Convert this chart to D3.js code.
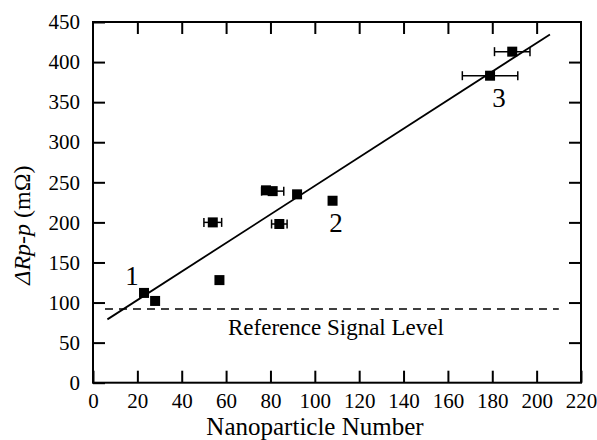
<!DOCTYPE html>
<head>
    <meta charset="utf-8">
    <title>Nanoparticle Number vs Delta Rp-p</title>
    <script src="https://d3js.org/d3.v7.min.js"></script>
    <style>
        body { margin: 0; background: #fff; }
        svg text { font-family: "Liberation Serif", "Times New Roman", serif; fill: #000; }
    </style>
</head>
<body>
    <svg class="chart" width="597" height="440"></svg>
    <script>
        // measured points (nanoparticle count vs peak-to-peak resistance change, mOhm)
        const nanoparticles = [23, 28, 57, 54, 78, 81, 92, 84, 108, 189, 179];
        const deltaRpp = [112, 102, 128, 200, 240, 239, 235, 198, 227, 413, 383];
        const xError = [0, 0, 0, 4, 0, 5, 0, 3.5, 0, 8, 12.5];

        // linear fit end points
        const fitX = [6.5, 206];
        const fitY = [79, 434.5];

        // reference signal level
        const refLevel = 92;
        const refX = [5.4, 210];

        // numbered sample labels
        const sampleLabels = ["1", "2", "3"];
        const sampleX = [17.6, 109.6, 183];
        const sampleY = [122, 188, 344];

        const xTicks = [0, 20, 40, 60, 80, 100, 120, 140, 160, 180, 200, 220];
        const yTicks = [0, 50, 100, 150, 200, 250, 300, 350, 400, 450];

        const serifFont = "Liberation Serif";
        const plotL = 93, plotR = 581, plotT = 22, plotB = 382.7;
        const svg = d3.select("svg");

        var x = d3.scaleLinear().domain([0, 220]).range([plotL, plotR]);
        var y = d3.scaleLinear().domain([0, 450]).range([plotB, plotT]);

        function tidy(g) {
            g.select(".domain").remove();
            g.attr("font-family", serifFont).attr("font-size", 21);
        }

        // axes, ticks pointing inward
        svg.append("g").attr("transform", "translate(0," + plotB + ")")
            .call(d3.axisBottom(x).tickValues(xTicks).tickSize(-12).tickPadding(10).tickSizeOuter(0))
            .call(tidy);
        svg.append("g").attr("transform", "translate(" + plotL + ",0)")
            .call(d3.axisLeft(y).tickValues(yTicks).tickSize(-12).tickPadding(13).tickSizeOuter(0))
            .call(tidy);
        svg.append("g").attr("transform", "translate(0," + plotT + ")")
            .call(d3.axisTop(x).tickValues(xTicks.slice(1, -1)).tickSize(-12).tickFormat("").tickSizeOuter(0))
            .call(tidy);
        svg.append("g").attr("transform", "translate(" + plotR + ",0)")
            .call(d3.axisRight(y).tickValues(yTicks.slice(1, -1)).tickSize(-12).tickFormat("").tickSizeOuter(0))
            .call(tidy);

        svg.selectAll(".tick line").attr("stroke", "#000").attr("stroke-width", 2);

        svg.append("rect")
            .attr("x", plotL).attr("y", plotT)
            .attr("width", plotR - plotL).attr("height", plotB - plotT)
            .attr("fill", "none").attr("stroke", "#000").attr("stroke-width", 2);

        // reference level dashed line
        svg.append("line")
            .attr("x1", x(refX[0])).attr("x2", x(refX[1]))
            .attr("y1", y(refLevel)).attr("y2", y(refLevel))
            .attr("stroke", "#000").attr("stroke-width", 1.5)
            .attr("stroke-dasharray", "8,6");

        svg.append("text")
            .attr("x", 228).attr("y", 335)
            .style("font-size", "23px")
            .text("Reference Signal Level");

        // fit line
        svg.append("line")
            .attr("x1", x(fitX[0])).attr("y1", y(fitY[0]))
            .attr("x2", x(fitX[1])).attr("y2", y(fitY[1]))
            .attr("stroke", "#000").attr("stroke-width", 1.8);

        const pts = nanoparticles.map((n, i) => ({ n: n, r: deltaRpp[i], e: xError[i] }));

        // horizontal error bars
        const eb = svg.append("g").attr("stroke", "#000").attr("stroke-width", 1.5);
        pts.filter(d => d.e > 0).forEach(function(d) {
            eb.append("line").attr("x1", x(d.n - d.e)).attr("x2", x(d.n + d.e))
                .attr("y1", y(d.r)).attr("y2", y(d.r));
            [d.n - d.e, d.n + d.e].forEach(function(v) {
                eb.append("line").attr("x1", x(v)).attr("x2", x(v))
                    .attr("y1", y(d.r) - 4.5).attr("y2", y(d.r) + 4.5);
            });
        });

        svg.append("g").selectAll("rect").data(pts).enter().append("rect")
            .attr("x", d => x(d.n) - 5)
            .attr("y", d => y(d.r) - 5)
            .attr("width", 10).attr("height", 10)
            .attr("fill", "#000");

        svg.append("g").selectAll("text").data(sampleLabels).enter().append("text")
            .attr("x", (d, i) => x(sampleX[i]))
            .attr("y", (d, i) => y(sampleY[i]))
            .attr("text-anchor", "middle")
            .style("font-size", "27px")
            .text(d => d);

        // axis titles
        svg.append("text")
            .attr("x", 315).attr("y", 435)
            .attr("text-anchor", "middle")
            .style("font-size", "25px")
            .text("Nanoparticle Number");

        var yl = svg.append("text")
            .attr("transform", "translate(30,225) rotate(-90)")
            .attr("text-anchor", "middle")
            .style("font-size", "24px");
        yl.append("tspan").style("font-style", "italic").text("\u0394Rp-p");
        yl.append("tspan").text(" (m\u03A9)");
    </script>
</body>
